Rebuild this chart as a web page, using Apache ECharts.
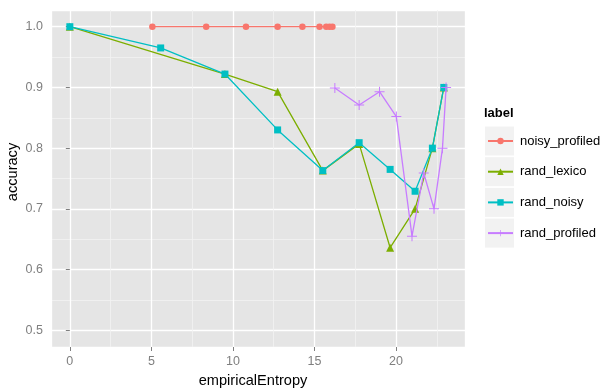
<!DOCTYPE html>
<html>
<head>
<meta charset="utf-8">
<script src="https://cdn.jsdelivr.net/npm/echarts@6/dist/echarts.min.js"></script>
<style>
  html, body { margin: 0; padding: 0; background: #fff; }
  #chart { width: 605px; height: 388px; }
</style>
</head>
<body>
<div id="chart"></div>
<script>
// values
var labels = ['noisy_profiled', 'rand_lexico', 'rand_noisy', 'rand_profiled'];
var colors = ['#F8766D', '#7CAE00', '#00BFC4', '#C77CFF'];

var noisyProfiledX = [5.06, 8.36, 10.8, 12.74, 14.26, 15.31, 15.72, 15.92, 16.1];
var noisyProfiledY = [1.0, 1.0, 1.0, 1.0, 1.0, 1.0, 1.0, 1.0, 1.0];

var randLexicoX = [0, 9.51, 12.74, 15.51, 17.74, 19.64, 21.17, 22.23, 22.93];
var randLexicoY = [1.0, 0.922, 0.893, 0.763, 0.807, 0.636, 0.70, 0.80, 0.90];

var randNoisyX = [0, 5.57, 9.51, 12.74, 15.51, 17.74, 19.64, 21.17, 22.23, 22.93];
var randNoisyY = [1.0, 0.965, 0.922, 0.83, 0.763, 0.809, 0.765, 0.729, 0.80, 0.90];

var randProfiledX = [16.25, 17.74, 18.99, 20.02, 20.98, 21.7, 22.33, 22.85, 23.07];
var randProfiledY = [0.899, 0.871, 0.893, 0.852, 0.655, 0.759, 0.70, 0.80, 0.90];

function pairs(xs, ys) {
	var out = [];
	for (var i = 0; i < xs.length; i++) out.push([xs[i], ys[i]]);
	return out;
}

var plusPath = 'path://M-0.5,-5 h1 v10 h-1z M-5,-0.5 h10 v1 h-10z';
var symbols = ['circle', 'triangle', 'rect', plusPath];
var sizes = [6.5, 8, 7, 10];
var seriesData = [
	pairs(noisyProfiledX, noisyProfiledY),
	pairs(randLexicoX, randLexicoY),
	pairs(randNoisyX, randNoisyY),
	pairs(randProfiledX, randProfiledY)
];

var series = [];
for (var s = 0; s < labels.length; s++) {
	series.push({
		type: 'line',
		name: labels[s],
		data: seriesData[s],
		symbol: symbols[s],
		symbolSize: sizes[s],
		showAllSymbol: true,
		lineStyle: {color: colors[s], width: 1.3},
		itemStyle: {color: colors[s], borderWidth: 0},
		animation: false,
		z: 2 + s
	});
}

var chart = echarts.init(document.getElementById('chart'));
var font = 'Liberation Sans, Arial, Helvetica, sans-serif';

// grey key backgrounds of the legend
var keyBoxes = [];
for (var k = 0; k < labels.length; k++) {
	keyBoxes.push({
		type: 'rect',
		left: 485, top: 126.5 + k * 30.7,
		shape: {width: 29, height: 29},
		style: {fill: '#F2F2F2'},
		z: 0
	});
}

chart.setOption({
	backgroundColor: '#fff',
	textStyle: {fontFamily: font},
	grid: {left: 51, right: 140, top: 10, bottom: 41, show: true,
		outerBoundsMode: 'none', containLabel: false,
		backgroundColor: '#E5E5E5', borderWidth: 0},
	xAxis: {
		type: 'value',
		min: -1.155, max: 24.23,
		name: 'empiricalEntropy',
		nameLocation: 'middle',
		nameGap: 26,
		nameMoveOverlap: false,
		nameTextStyle: {color: '#000', fontSize: 14.6, fontFamily: font, padding: [0, 10, 0, 0]},
		axisLine: {show: false},
		axisTick: {show: true, length: 4, lineStyle: {color: '#7F7F7F', width: 1}},
		axisLabel: {color: '#7F7F7F', fontSize: 12.5, margin: 8, fontFamily: font,
			showMinLabel: false, showMaxLabel: false},
		splitLine: {show: true, lineStyle: {color: '#FFFFFF', width: 1.3}},
		minorTick: {show: false, splitNumber: 2},
		minorSplitLine: {show: true, lineStyle: {color: '#F2F2F2', width: 0.8}}
	},
	yAxis: {
		type: 'value',
		min: 0.4725, max: 1.0275,
		name: 'accuracy',
		nameLocation: 'middle',
		nameGap: 31,
		nameMoveOverlap: false,
		nameRotate: 90,
		nameTextStyle: {color: '#000', fontSize: 14.6, fontFamily: font, padding: [0, 0, 0, 13]},
		axisLine: {show: false},
		axisTick: {show: true, length: 4, lineStyle: {color: '#7F7F7F', width: 1}},
		axisLabel: {color: '#7F7F7F', fontSize: 12.5, margin: 8, fontFamily: font,
			showMinLabel: false, showMaxLabel: false,
			formatter: function (v) { return v.toFixed(1); }},
		splitLine: {show: true, lineStyle: {color: '#FFFFFF', width: 1.3}},
		minorTick: {show: false, splitNumber: 2},
		minorSplitLine: {show: true, lineStyle: {color: '#F2F2F2', width: 0.8}}
	},
	legend: {
		orient: 'vertical',
		left: 482, top: 129,
		itemWidth: 25, itemHeight: 8, itemGap: 16.7,
		data: labels,
		textStyle: {color: '#000', fontSize: 13, lineHeight: 14, fontFamily: font, padding: [0, 0, 0, 2]},
		selectedMode: false
	},
	graphic: [{
		type: 'text', left: 484, top: 107,
		style: {text: 'label', fontSize: 13, fontWeight: 'bold', fill: '#000', font: 'bold 13px ' + font},
		z: 10
	}].concat(keyBoxes),
	series: series
});
</script>
</body>
</html>
